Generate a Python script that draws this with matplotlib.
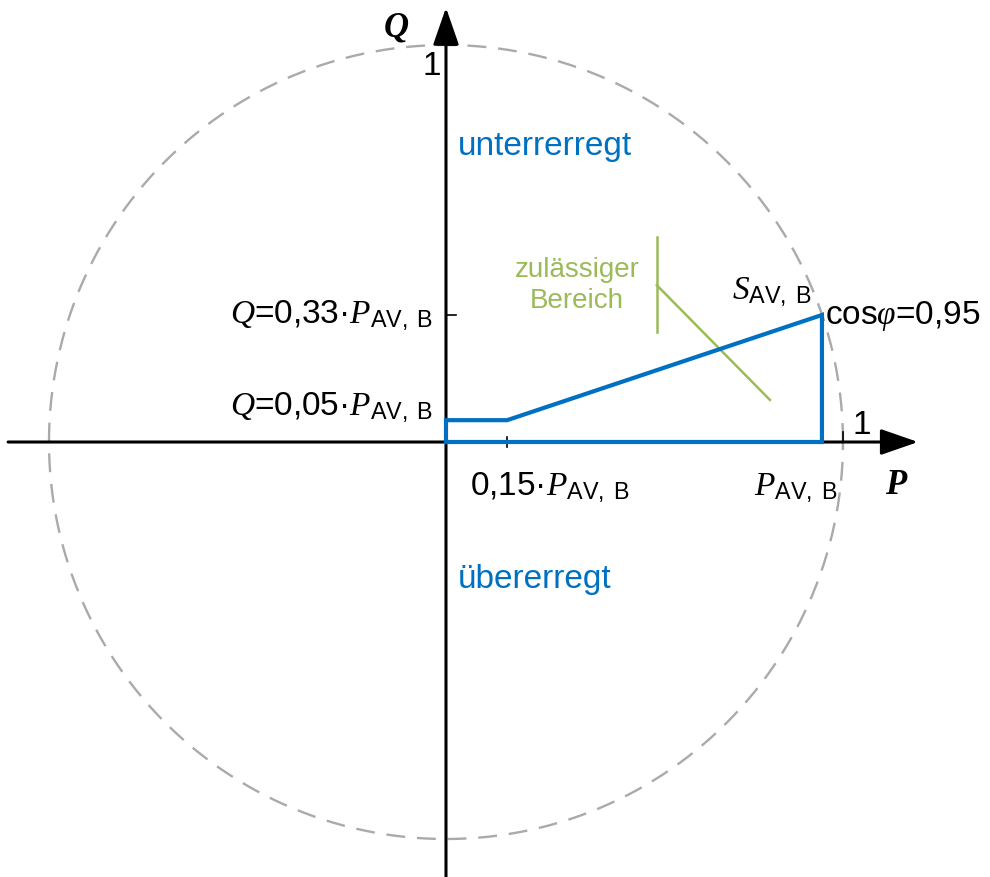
import matplotlib
matplotlib.use("Agg")
import matplotlib.pyplot as plt
import numpy as np

plt.rcParams['font.family'] = ['Liberation Sans', 'DejaVu Sans']
plt.rcParams['mathtext.fontset'] = 'custom'
plt.rcParams['mathtext.rm'] = 'Liberation Sans'
plt.rcParams['mathtext.it'] = 'Liberation Serif:italic'
plt.rcParams['mathtext.bf'] = 'Liberation Serif:bold'

# values (unit = rated apparent power)
p_rated = 0.947       # P_AV,B  (cos phi = 0.95)
q_max = 0.32          # Q = 0.33 * P_AV,B
q_min = 0.055         # Q = 0.05 * P_AV,B
p_knee = 0.154        # 0.15 * P_AV,B
region_p = [0, 0, p_knee, p_rated, p_rated, 0]
region_q = [0, q_min, q_min, q_max, 0, 0]

# green marker "zulässiger Bereich"
mark_x = 0.531
mark_q = [0.277, 0.516]
hatch_p = [0.531, 0.816]
hatch_q = [0.395, 0.106]

blue = '#0070C0'
green = '#9BBB59'

fig = plt.figure(figsize=(9.9, 8.78), dpi=100)
ax = fig.add_axes([0, 0, 1, 1])
ax.set_xlim(-1.1234, 1.3703)
ax.set_ylim(-1.0957, 1.1159)
ax.set_aspect('equal')
ax.axis('off')

# unit circle
t = np.linspace(0, 2 * np.pi, 721)
ax.plot(np.cos(t), np.sin(t), color='#aaaaaa', lw=1.7, ls=(0, (8, 5)), zorder=1)

# axes with arrows
arr = dict(arrowstyle='-|>,head_length=1.15,head_width=0.4', lw=2.2, color='k',
           mutation_scale=20, shrinkA=0, shrinkB=0)
ax.annotate('', xy=(1.189, 0), xytext=(-1.103, 0), arrowprops=arr, zorder=3)
ax.annotate('', xy=(0, 1.094), xytext=(0, -1.0957), arrowprops=arr, zorder=3)

# ticks
tk = 0.025
ax.plot([1, 1], [0, tk], color='k', lw=1.2, zorder=3)
ax.plot([0, tk], [1, 1], color='k', lw=1.2, zorder=3)
ax.plot([0, tk], [q_max, q_max], color='k', lw=1.2, zorder=3)
ax.plot([0, tk], [q_min, q_min], color='k', lw=1.2, zorder=3)
ax.plot([p_knee, p_knee], [-tk / 2, tk / 2], color='k', lw=1.2, zorder=3)

# permitted operating region
ax.plot(region_p, region_q, color=blue, lw=3, solid_joinstyle='miter', zorder=4)

ax.plot([mark_x, mark_x], mark_q, color=green, lw=1.8, zorder=2)
ax.plot(hatch_p, hatch_q, color=green, lw=1.8, zorder=2)

fs = 24
sub = r'_{\mathrm{AV,\ B}}'
ax.text(-0.033, q_max, r'$Q$=0,33·$P' + sub + '$', fontsize=fs, ha='right', va='center')
ax.text(-0.033, 0.088, r'$Q$=0,05·$P' + sub + '$', fontsize=fs, ha='right', va='center')
ax.text(0.06, -0.113, r'0,15·$P' + sub + '$', fontsize=fs, ha='left', va='center')
ax.text(0.775, -0.113, r'$P' + sub + '$', fontsize=fs, ha='left', va='center')
ax.text(0.72, 0.38, r'$S' + sub + '$', fontsize=fs, ha='left', va='center')
ax.text(0.955, q_max, r'cos$\varphi$=0,95', fontsize=fs, ha='left', va='center')
ax.text(-0.012, 0.948, '1', fontsize=fs, ha='right', va='center')
ax.text(1.048, 0.045, '1', fontsize=fs, ha='center', va='center')
ax.text(-0.126, 1.045, 'Q', fontsize=25, ha='center', va='center',
        family='Liberation Serif', style='italic', weight='bold')
ax.text(1.133, -0.106, 'P', fontsize=25, ha='center', va='center',
        family='Liberation Serif', style='italic', weight='bold')
ax.text(0.03, 0.746, 'unterrerregt', fontsize=fs, color=blue, ha='left', va='center')
ax.text(0.03, -0.345, 'übererregt', fontsize=fs, color=blue, ha='left', va='center')
ax.text(0.33, 0.398, 'zulässiger\nBereich', fontsize=20, color=green, ha='center',
        va='center', linespacing=1.25)

fig.savefig('out.png', dpi=100)
